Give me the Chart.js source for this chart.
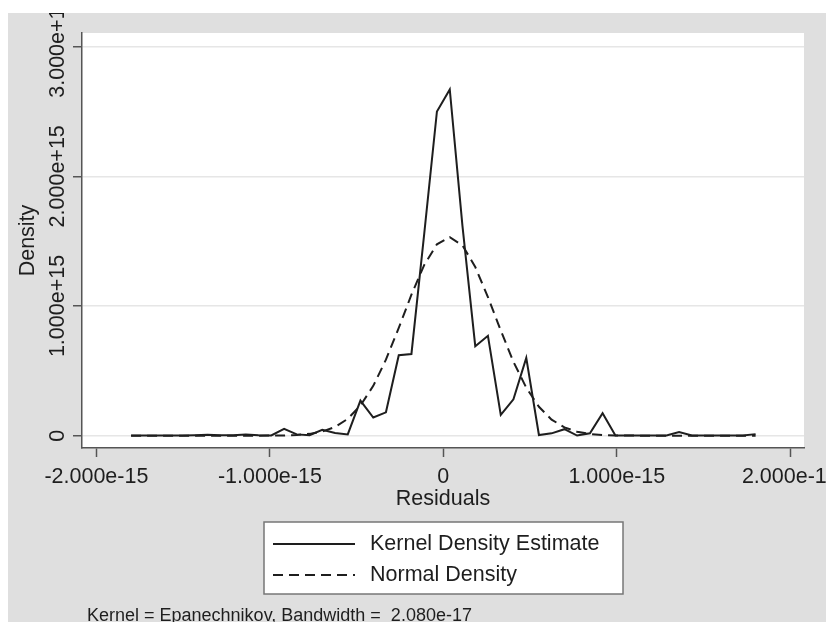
<!DOCTYPE html>
<html>
<head>
<meta charset="utf-8">
<title>Kernel density of residuals</title>
<script src="https://cdn.jsdelivr.net/npm/chart.js@4.4.1/dist/chart.umd.min.js"></script>
<style>
  html, body { margin: 0; padding: 0; background: #fff; }
  #wrap { position: absolute; left: 8px; top: 13px; width: 818px; height: 609px; background: #dfdfdf; }
  canvas { display: block; }
</style>
</head>
<body>
<div id="wrap"><canvas id="kd" width="818" height="609"></canvas></div>
<script>
/* Kernel density of residuals vs normal density (Stata-style kdensity plot) */

const X_UNIT = 1e-15;   // residuals are stored in units of 1e-15
const Y_UNIT = 1e15;    // densities are stored in units of 1e+15

// evaluation points (50 of them, like kdensity's default)
const residuals = [
  -1.800, -1.727, -1.653, -1.580, -1.506, -1.433, -1.359, -1.286, -1.212, -1.139,
  -1.065, -0.992, -0.918, -0.845, -0.771, -0.698, -0.624, -0.551, -0.478, -0.404,
  -0.331, -0.257, -0.184, -0.110, -0.037,  0.037,  0.110,  0.184,  0.257,  0.331,
   0.404,  0.478,  0.551,  0.624,  0.698,  0.771,  0.845,  0.918,  0.992,  1.065,
   1.139,  1.212,  1.286,  1.359,  1.433,  1.506,  1.580,  1.653,  1.727,  1.800
];

const kernelDensity = [
  0.002, 0.002, 0.002, 0.002, 0.002, 0.004, 0.008, 0.004, 0.004, 0.010,
  0.004, 0.002, 0.052, 0.010, 0.004, 0.045, 0.020, 0.010, 0.270, 0.140,
  0.180, 0.620, 0.630, 1.560, 2.500, 2.670, 1.620, 0.690, 0.770, 0.160,
  0.280, 0.600, 0.005, 0.018, 0.050, 0.001, 0.018, 0.173, 0.002, 0.002,
  0.002, 0.002, 0.002, 0.028, 0.002, 0.002, 0.002, 0.002, 0.002, 0.012
];

const normalDensity = [
  0.000, 0.000, 0.000, 0.000, 0.000, 0.000, 0.000, 0.000, 0.000, 0.000,
  0.000, 0.001, 0.002, 0.006, 0.014, 0.032, 0.067, 0.130, 0.232, 0.384,
  0.586, 0.831, 1.087, 1.317, 1.476, 1.530, 1.468, 1.301, 1.069, 0.811,
  0.570, 0.370, 0.223, 0.124, 0.064, 0.030, 0.013, 0.005, 0.002, 0.001,
  0.000, 0.000, 0.000, 0.000, 0.000, 0.000, 0.000, 0.000, 0.000, 0.000
];

const xTickValues = [-2, -1, 0, 1, 2];
const xTickLabels = ["-2.000e-15", "-1.000e-15", "0", "1.000e-15", "2.000e-15"];
const yTickValues = [0, 1, 2, 3];
const yTickLabels = ["0", "1.000e+15", "2.000e+15", "3.000e+15"];

const seriesNames = ["Kernel Density Estimate", "Normal Density"];
const footNote = "Kernel = Epanechnikov, Bandwidth =  2.080e-17";

const FONT = "'Liberation Sans', Arial, Helvetica, sans-serif";
const INK = "#1e1e1e";

const toPoints = ys => residuals.map((x, i) => ({ x: x * X_UNIT, y: ys[i] * Y_UNIT }));

// white plot region
const plotBg = {
  id: "plotBg",
  beforeDraw(chart) {
    const { ctx, chartArea: a } = chart;
    ctx.save();
    ctx.fillStyle = "#fff";
    ctx.fillRect(a.left, a.top, a.right - a.left, a.bottom - a.top);
    ctx.restore();
  }
};

// boxed legend under the axis + kernel note
const stataLegend = {
  id: "stataLegend",
  afterDraw(chart) {
    const ctx = chart.ctx;
    const box = { x: 256, y: 509, w: 359, h: 72 };
    ctx.save();
    ctx.fillStyle = "#fff";
    ctx.fillRect(box.x, box.y, box.w, box.h);
    ctx.strokeStyle = "#777";
    ctx.lineWidth = 1.5;
    ctx.strokeRect(box.x, box.y, box.w, box.h);

    const rows = [531, 562];
    chart.data.datasets.forEach((ds, i) => {
      ctx.strokeStyle = ds.borderColor;
      ctx.lineWidth = ds.borderWidth;
      ctx.setLineDash(ds.borderDash || []);
      ctx.beginPath();
      ctx.moveTo(265, rows[i]);
      ctx.lineTo(347, rows[i]);
      ctx.stroke();
      ctx.setLineDash([]);
      ctx.fillStyle = INK;
      ctx.font = "21.5px " + FONT;
      ctx.textBaseline = "middle";
      ctx.textAlign = "left";
      ctx.fillText(ds.label, 362, rows[i]);
    });

    ctx.font = "18px " + FONT;
    ctx.textBaseline = "alphabetic";
    ctx.fillText(footNote, 79, 608);
    ctx.restore();
  }
};

new Chart(document.getElementById("kd"), {
  type: "line",
  data: {
    datasets: [
      {
        label: seriesNames[0],
        data: toPoints(kernelDensity),
        borderColor: INK, borderWidth: 2,
        pointRadius: 0, tension: 0, fill: false
      },
      {
        label: seriesNames[1],
        data: toPoints(normalDensity),
        borderColor: INK, borderWidth: 2, borderDash: [10, 6],
        pointRadius: 0, tension: 0, fill: false
      }
    ]
  },
  options: {
    responsive: false,
    animation: false,
    devicePixelRatio: 1,
    layout: { padding: { left: 0, top: 20, right: 22, bottom: 0 } },
    plugins: { legend: { display: false }, tooltip: { enabled: false } },
    scales: {
      x: {
        type: "linear",
        min: -2.083 * X_UNIT,
        max: 2.079 * X_UNIT,
        afterBuildTicks: s => { s.ticks = xTickValues.map(v => ({ value: v * X_UNIT })); },
        afterFit: s => { s.height = 174; s.paddingLeft = 0; s.paddingRight = 0; },
        grid: { drawOnChartArea: false, drawTicks: true, tickLength: 9, tickColor: "#555", tickWidth: 1.5 },
        border: { display: true, color: "#555", width: 1.5 },
        ticks: {
          autoSkip: false, maxRotation: 0, minRotation: 0, padding: 7,
          color: INK, font: { family: FONT, size: 21.5 },
          callback: (v, i) => xTickLabels[i]
        },
        title: {
          display: true, text: "Residuals", color: INK,
          font: { family: FONT, size: 21.5 },
          padding: { top: 0, bottom: 110 }
        }
      },
      y: {
        type: "linear",
        min: -0.095 * Y_UNIT,
        max: 3.105 * Y_UNIT,
        afterBuildTicks: s => { s.ticks = yTickValues.map(v => ({ value: v * Y_UNIT })); },
        afterFit: s => { s.width = 74; s.paddingTop = 0; s.paddingBottom = 0; },
        grid: { color: "#e6e6e6", lineWidth: 1.5, drawTicks: true, tickLength: 9, tickColor: "#555", tickWidth: 1.5 },
        border: { display: true, color: "#555", width: 1.5 },
        ticks: {
          autoSkip: false, minRotation: 90, maxRotation: 90,
          crossAlign: "center", padding: -36,
          color: INK, font: { family: FONT, size: 21.5 },
          callback: (v, i) => yTickLabels[i]
        },
        title: {
          display: true, text: "Density", color: INK,
          font: { family: FONT, size: 21.5 },
          padding: { top: 7, bottom: 0 }
        }
      }
    }
  },
  plugins: [plotBg, stataLegend]
});
</script>
</body>
</html>
